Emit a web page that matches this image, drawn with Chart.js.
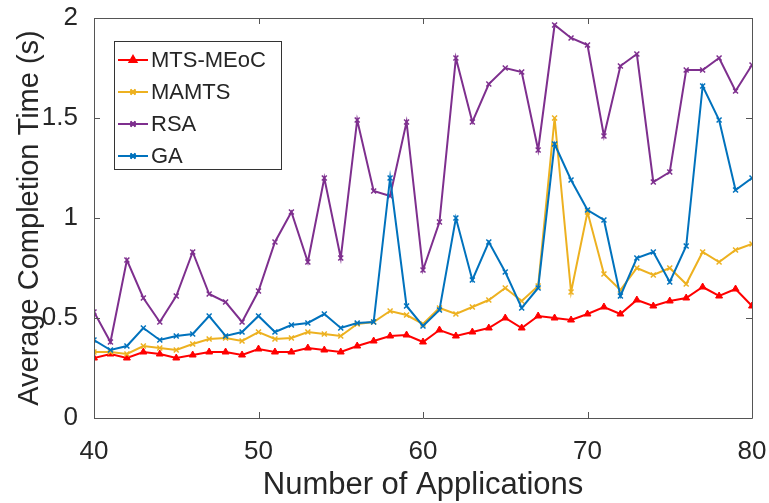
<!DOCTYPE html>
<html>
<head>
<meta charset="utf-8">
<script src="https://cdn.jsdelivr.net/npm/chart.js@4/dist/chart.umd.min.js"></script>
<style>
  html, body { margin: 0; padding: 0; background: #fff; }
  #wrap { width: 769px; height: 503px; }
</style>
</head>
<body>
<div id="wrap"><canvas id="chart-time"></canvas></div>
<script>
// number of applications (x axis)
const apps = [40, 41, 42, 43, 44, 45, 46, 47, 48, 49, 50, 51, 52, 53, 54, 55, 56, 57, 58, 59, 60,
              61, 62, 63, 64, 65, 66, 67, 68, 69, 70, 71, 72, 73, 74, 75, 76, 77, 78, 79, 80];

// average completion time (s)
const mtsMeoc = [0.30, 0.32, 0.30, 0.33, 0.32, 0.30, 0.315, 0.33, 0.33, 0.315, 0.345, 0.33, 0.33, 0.35,
                 0.34, 0.33, 0.36, 0.385, 0.41, 0.415, 0.38, 0.44, 0.41, 0.43, 0.45, 0.50, 0.45,
                 0.51, 0.50, 0.49, 0.52, 0.555, 0.52, 0.59, 0.56, 0.585, 0.60, 0.655, 0.61, 0.645, 0.56];
const mamts = [0.33, 0.33, 0.32, 0.36, 0.35, 0.34, 0.37, 0.395, 0.40, 0.385, 0.43, 0.395, 0.40, 0.43,
               0.42, 0.41, 0.47, 0.48, 0.535, 0.515, 0.47, 0.55, 0.52, 0.555, 0.59, 0.65, 0.585,
               0.66, 1.50, 0.63, 1.03, 0.72, 0.64, 0.75, 0.715, 0.75, 0.67, 0.83, 0.78, 0.84, 0.87];
const rsa = [0.53, 0.38, 0.79, 0.60, 0.48, 0.61, 0.83, 0.62, 0.58, 0.48, 0.635, 0.88, 1.03, 0.78,
             1.20, 0.80, 1.49, 1.135, 1.11, 1.48, 0.74, 0.98, 1.80, 1.48, 1.67, 1.75, 1.73,
             1.34, 1.965, 1.90, 1.865, 1.41, 1.76, 1.82, 1.18, 1.23, 1.74, 1.74, 1.80, 1.635, 1.765];
const ga = [0.39, 0.34, 0.36, 0.45, 0.39, 0.41, 0.42, 0.51, 0.41, 0.43, 0.51, 0.43, 0.465, 0.475,
            0.52, 0.45, 0.475, 0.48, 1.20, 0.56, 0.46, 0.54, 1.00, 0.69, 0.88, 0.73, 0.55,
            0.65, 1.37, 1.19, 1.04, 0.99, 0.61, 0.80, 0.83, 0.68, 0.86, 1.66, 1.49, 1.14, 1.20];

const yTicks = [0, 0.5, 1, 1.5, 2];
const xTicks = [40, 50, 60, 70, 80];

const FONT = '"Liberation Sans", Arial, Helvetica, sans-serif';
const TEXT = '#262626';
const AXIS = '#555555';

function pts(ys) {
    return apps.map((a, i) => ({ x: a, y: ys[i] }));
}

function series(label, ys, color, style, order) {
    return {
        label: label,
        data: pts(ys),
        borderColor: color,
        backgroundColor: color,
        borderWidth: 2,
        pointStyle: style,
        pointRadius: style === 'triangle' ? 4 : 3.5,
        pointBorderWidth: style === 'triangle' ? 1 : 1.5,
        pointBorderColor: color,
        pointBackgroundColor: color,
        tension: 0,
        fill: false,
        order: order
    };
}

const datasets = [
    series('MTS-MEoC', mtsMeoc, '#ff0000', 'triangle', 4),
    series('MAMTS', mamts, '#edb120', 'crossRot', 3),
    series('RSA', rsa, '#7e2f8e', 'crossRot', 2),
    series('GA', ga, '#0072bd', 'crossRot', 1)
];

// box round the plot with MATLAB style inward ticks
const boxPlugin = {
    id: 'box',
    afterDatasetsDraw(chart) {
        const { ctx, chartArea: a, scales } = chart;
        ctx.save();
        ctx.strokeStyle = AXIS;
        ctx.lineWidth = 1;
        ctx.beginPath();
        ctx.rect(a.left + 0.5, a.top + 0.5, a.right - a.left, a.bottom - a.top);
        ctx.stroke();
        ctx.beginPath();
        xTicks.forEach(v => {
            const x = Math.round(scales.x.getPixelForValue(v)) + 0.5;
            ctx.moveTo(x, a.bottom); ctx.lineTo(x, a.bottom - 6);
            ctx.moveTo(x, a.top); ctx.lineTo(x, a.top + 6);
        });
        yTicks.forEach(v => {
            const y = Math.round(scales.y.getPixelForValue(v)) + 0.5;
            ctx.moveTo(a.left, y); ctx.lineTo(a.left + 6, y);
            ctx.moveTo(a.right, y); ctx.lineTo(a.right - 6, y);
        });
        ctx.stroke();
        ctx.restore();
    }
};

// legend box in the upper left corner of the plot
const legendPlugin = {
    id: 'boxLegend',
    afterDraw(chart) {
        const ctx = chart.ctx;
        const a = chart.chartArea;
        const bx = a.left + 20, by = a.top + 23, bw = 167, bh = 128;
        ctx.save();
        ctx.fillStyle = '#fff';
        ctx.fillRect(bx, by, bw, bh);
        ctx.strokeStyle = '#333';
        ctx.lineWidth = 1;
        ctx.strokeRect(bx + 0.5, by + 0.5, bw, bh);
        ctx.font = '22px ' + FONT;
        ctx.textBaseline = 'middle';
        chart.data.datasets.forEach((ds, i) => {
            const y = by + 19 + i * 32;
            ctx.strokeStyle = ds.borderColor;
            ctx.lineWidth = 2;
            ctx.beginPath();
            ctx.moveTo(bx + 4, y); ctx.lineTo(bx + 34, y);
            ctx.stroke();
            Chart.helpers.drawPoint(ctx, {
                pointStyle: ds.pointStyle,
                radius: ds.pointRadius,
                borderWidth: ds.pointBorderWidth,
                rotation: 0
            }, bx + 19, y);
            ctx.fillStyle = ds.borderColor;
            ctx.strokeStyle = ds.borderColor;
            ctx.lineWidth = ds.pointBorderWidth;
            if (ds.pointStyle === 'triangle') ctx.fill();
            ctx.stroke();
            ctx.fillStyle = TEXT;
            ctx.fillText(ds.label, bx + 37, y + 1);
        });
        ctx.restore();
    }
};

new Chart(document.getElementById('chart-time'), {
    type: 'line',
    data: { datasets: datasets },
    options: {
        responsive: true,
        maintainAspectRatio: false,
        animation: false,
        layout: { padding: { top: 18, right: 17, left: 0, bottom: 0 } },
        plugins: {
            legend: { display: false },
            tooltip: { enabled: false }
        },
        scales: {
            x: {
                type: 'linear',
                min: 40,
                max: 80,
                afterBuildTicks: s => { s.ticks = xTicks.map(v => ({ value: v })); },
                ticks: { color: TEXT, font: { family: FONT, size: 26 }, padding: 10, maxRotation: 0,
                         callback: v => String(v) },
                grid: { display: false },
                border: { display: false },
                title: {
                    display: true,
                    text: 'Number of Applications',
                    color: TEXT,
                    font: { family: FONT, size: 31, lineHeight: 1.1 },
                    padding: { top: 0, bottom: 0 }
                },
                afterFit: s => {
                    s.height = 85;
                    s.paddingLeft = 0; s.paddingRight = 0;
                }
            },
            y: {
                min: 0,
                max: 2,
                afterBuildTicks: s => { s.ticks = yTicks.map(v => ({ value: v })); },
                ticks: { color: TEXT, font: { family: FONT, size: 26 }, padding: 8,
                         callback: v => String(v) },
                grid: { display: false },
                border: { display: false },
                title: {
                    display: true,
                    text: 'Average Completion Time (s)',
                    color: TEXT,
                    font: { family: FONT, size: 29, lineHeight: 1.1 },
                    padding: { top: 14, bottom: 0 }
                },
                afterFit: s => {
                    s.width = 94;
                    s.paddingTop = 0; s.paddingBottom = 0;
                }
            }
        }
    },
    plugins: [boxPlugin, legendPlugin]
});
</script>
</body>
</html>
